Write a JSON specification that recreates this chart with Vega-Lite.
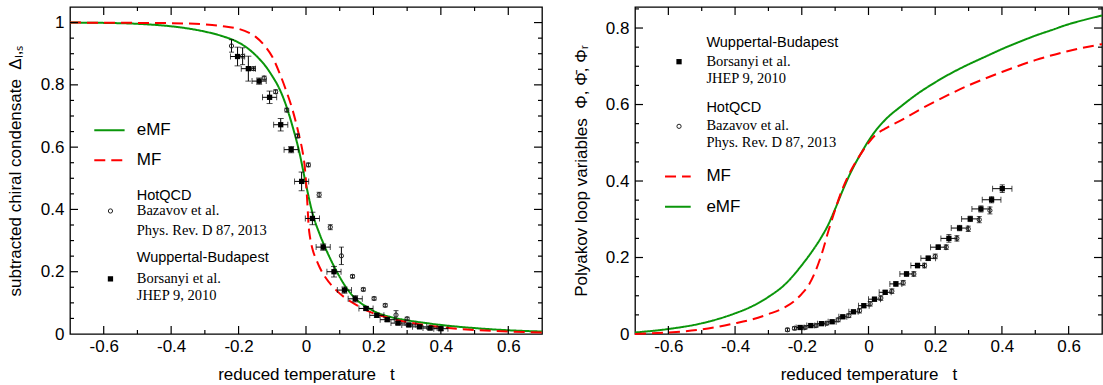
{
  "$schema": "https://vega.github.io/schema/vega-lite/v6.json",
  "padding": {"left": 5, "top": 3, "right": 0, "bottom": 0},
  "spacing": 24,
  "background": "white",
  "config": {
    "view": {"stroke": "black", "strokeWidth": 1.3},
    "axis": {"domain": false, "grid": false, "ticks": false, "tickSize": 0, "labelFont": "Liberation Sans", "labelFontSize": 17, "labelColor": "black", "titleFont": "Liberation Sans", "titleFontSize": 17, "titleFontWeight": "normal", "titleColor": "black", "labelFlush": false, "labelOverlap": false}
  },
  "datasets": {
    "Lframe": [
      {"g":"b1","x":-0.6,"y":0},{"g":"b1","x":-0.6,"y":0.0257},{"g":"b2","x":-0.4,"y":0},{"g":"b2","x":-0.4,"y":0.0257},{"g":"b3","x":-0.2,"y":0},{"g":"b3","x":-0.2,"y":0.0257},{"g":"b4","x":0,"y":0},{"g":"b4","x":0,"y":0.0257},{"g":"b5","x":0.2,"y":0},{"g":"b5","x":0.2,"y":0.0257},{"g":"b6","x":0.4,"y":0},{"g":"b6","x":0.4,"y":0.0257},{"g":"b7","x":0.6,"y":0},{"g":"b7","x":0.6,"y":0.0257},
      {"g":"b8","x":-0.5,"y":0},{"g":"b8","x":-0.5,"y":0.0128},{"g":"b9","x":-0.3,"y":0},{"g":"b9","x":-0.3,"y":0.0128},{"g":"b10","x":-0.1,"y":0},{"g":"b10","x":-0.1,"y":0.0128},{"g":"b11","x":0.1,"y":0},{"g":"b11","x":0.1,"y":0.0128},{"g":"b12","x":0.3,"y":0},{"g":"b12","x":0.3,"y":0.0128},{"g":"b13","x":0.5,"y":0},{"g":"b13","x":0.5,"y":0.0128},
      {"g":"t1","x":-0.6,"y":1.05},{"g":"t1","x":-0.6,"y":1.0243},{"g":"t2","x":-0.4,"y":1.05},{"g":"t2","x":-0.4,"y":1.0243},{"g":"t3","x":-0.2,"y":1.05},{"g":"t3","x":-0.2,"y":1.0243},{"g":"t4","x":0,"y":1.05},{"g":"t4","x":0,"y":1.0243},{"g":"t5","x":0.2,"y":1.05},{"g":"t5","x":0.2,"y":1.0243},{"g":"t6","x":0.4,"y":1.05},{"g":"t6","x":0.4,"y":1.0243},{"g":"t7","x":0.6,"y":1.05},{"g":"t7","x":0.6,"y":1.0243},
      {"g":"t8","x":-0.5,"y":1.05},{"g":"t8","x":-0.5,"y":1.0372},{"g":"t9","x":-0.3,"y":1.05},{"g":"t9","x":-0.3,"y":1.0372},{"g":"t10","x":-0.1,"y":1.05},{"g":"t10","x":-0.1,"y":1.0372},{"g":"t11","x":0.1,"y":1.05},{"g":"t11","x":0.1,"y":1.0372},{"g":"t12","x":0.3,"y":1.05},{"g":"t12","x":0.3,"y":1.0372},{"g":"t13","x":0.5,"y":1.05},{"g":"t13","x":0.5,"y":1.0372},
      {"g":"l1","x":-0.7,"y":0.2},{"g":"l1","x":-0.6763,"y":0.2},{"g":"l2","x":-0.7,"y":0.4},{"g":"l2","x":-0.6763,"y":0.4},{"g":"l3","x":-0.7,"y":0.6},{"g":"l3","x":-0.6763,"y":0.6},{"g":"l4","x":-0.7,"y":0.8},{"g":"l4","x":-0.6763,"y":0.8},{"g":"l5","x":-0.7,"y":1},{"g":"l5","x":-0.6763,"y":1},
      {"g":"l6","x":-0.7,"y":0.05},{"g":"l6","x":-0.6881,"y":0.05},{"g":"l7","x":-0.7,"y":0.1},{"g":"l7","x":-0.6881,"y":0.1},{"g":"l8","x":-0.7,"y":0.15},{"g":"l8","x":-0.6881,"y":0.15},{"g":"l9","x":-0.7,"y":0.25},{"g":"l9","x":-0.6881,"y":0.25},{"g":"l10","x":-0.7,"y":0.3},{"g":"l10","x":-0.6881,"y":0.3},{"g":"l11","x":-0.7,"y":0.35},{"g":"l11","x":-0.6881,"y":0.35},{"g":"l12","x":-0.7,"y":0.45},{"g":"l12","x":-0.6881,"y":0.45},{"g":"l13","x":-0.7,"y":0.5},{"g":"l13","x":-0.6881,"y":0.5},{"g":"l14","x":-0.7,"y":0.55},{"g":"l14","x":-0.6881,"y":0.55},{"g":"l15","x":-0.7,"y":0.65},{"g":"l15","x":-0.6881,"y":0.65},{"g":"l16","x":-0.7,"y":0.7},{"g":"l16","x":-0.6881,"y":0.7},{"g":"l17","x":-0.7,"y":0.75},{"g":"l17","x":-0.6881,"y":0.75},{"g":"l18","x":-0.7,"y":0.85},{"g":"l18","x":-0.6881,"y":0.85},{"g":"l19","x":-0.7,"y":0.9},{"g":"l19","x":-0.6881,"y":0.9},{"g":"l20","x":-0.7,"y":0.95},{"g":"l20","x":-0.6881,"y":0.95},
      {"g":"r1","x":0.6763,"y":0.2},{"g":"r1","x":0.7,"y":0.2},{"g":"r2","x":0.6763,"y":0.4},{"g":"r2","x":0.7,"y":0.4},{"g":"r3","x":0.6763,"y":0.6},{"g":"r3","x":0.7,"y":0.6},{"g":"r4","x":0.6763,"y":0.8},{"g":"r4","x":0.7,"y":0.8},{"g":"r5","x":0.6763,"y":1},{"g":"r5","x":0.7,"y":1},
      {"g":"r6","x":0.6881,"y":0.05},{"g":"r6","x":0.7,"y":0.05},{"g":"r7","x":0.6881,"y":0.1},{"g":"r7","x":0.7,"y":0.1},{"g":"r8","x":0.6881,"y":0.15},{"g":"r8","x":0.7,"y":0.15},{"g":"r9","x":0.6881,"y":0.25},{"g":"r9","x":0.7,"y":0.25},{"g":"r10","x":0.6881,"y":0.3},{"g":"r10","x":0.7,"y":0.3},{"g":"r11","x":0.6881,"y":0.35},{"g":"r11","x":0.7,"y":0.35},{"g":"r12","x":0.6881,"y":0.45},{"g":"r12","x":0.7,"y":0.45},{"g":"r13","x":0.6881,"y":0.5},{"g":"r13","x":0.7,"y":0.5},{"g":"r14","x":0.6881,"y":0.55},{"g":"r14","x":0.7,"y":0.55},{"g":"r15","x":0.6881,"y":0.65},{"g":"r15","x":0.7,"y":0.65},{"g":"r16","x":0.6881,"y":0.7},{"g":"r16","x":0.7,"y":0.7},{"g":"r17","x":0.6881,"y":0.75},{"g":"r17","x":0.7,"y":0.75},{"g":"r18","x":0.6881,"y":0.85},{"g":"r18","x":0.7,"y":0.85},{"g":"r19","x":0.6881,"y":0.9},{"g":"r19","x":0.7,"y":0.9},{"g":"r20","x":0.6881,"y":0.95},{"g":"r20","x":0.7,"y":0.95}
    ],
    "Rframe": [
      {"g":"b1","x":-0.6,"y":0},{"g":"b1","x":-0.6,"y":0.0209},{"g":"b2","x":-0.4,"y":0},{"g":"b2","x":-0.4,"y":0.0209},{"g":"b3","x":-0.2,"y":0},{"g":"b3","x":-0.2,"y":0.0209},{"g":"b4","x":0,"y":0},{"g":"b4","x":0,"y":0.0209},{"g":"b5","x":0.2,"y":0},{"g":"b5","x":0.2,"y":0.0209},{"g":"b6","x":0.4,"y":0},{"g":"b6","x":0.4,"y":0.0209},{"g":"b7","x":0.6,"y":0},{"g":"b7","x":0.6,"y":0.0209},
      {"g":"b8","x":-0.5,"y":0},{"g":"b8","x":-0.5,"y":0.0105},{"g":"b9","x":-0.3,"y":0},{"g":"b9","x":-0.3,"y":0.0105},{"g":"b10","x":-0.1,"y":0},{"g":"b10","x":-0.1,"y":0.0105},{"g":"b11","x":0.1,"y":0},{"g":"b11","x":0.1,"y":0.0105},{"g":"b12","x":0.3,"y":0},{"g":"b12","x":0.3,"y":0.0105},{"g":"b13","x":0.5,"y":0},{"g":"b13","x":0.5,"y":0.0105},
      {"g":"t1","x":-0.6,"y":0.855},{"g":"t1","x":-0.6,"y":0.8341},{"g":"t2","x":-0.4,"y":0.855},{"g":"t2","x":-0.4,"y":0.8341},{"g":"t3","x":-0.2,"y":0.855},{"g":"t3","x":-0.2,"y":0.8341},{"g":"t4","x":0,"y":0.855},{"g":"t4","x":0,"y":0.8341},{"g":"t5","x":0.2,"y":0.855},{"g":"t5","x":0.2,"y":0.8341},{"g":"t6","x":0.4,"y":0.855},{"g":"t6","x":0.4,"y":0.8341},{"g":"t7","x":0.6,"y":0.855},{"g":"t7","x":0.6,"y":0.8341},
      {"g":"t8","x":-0.5,"y":0.855},{"g":"t8","x":-0.5,"y":0.8445},{"g":"t9","x":-0.3,"y":0.855},{"g":"t9","x":-0.3,"y":0.8445},{"g":"t10","x":-0.1,"y":0.855},{"g":"t10","x":-0.1,"y":0.8445},{"g":"t11","x":0.1,"y":0.855},{"g":"t11","x":0.1,"y":0.8445},{"g":"t12","x":0.3,"y":0.855},{"g":"t12","x":0.3,"y":0.8445},{"g":"t13","x":0.5,"y":0.855},{"g":"t13","x":0.5,"y":0.8445},
      {"g":"l1","x":-0.7,"y":0.2},{"g":"l1","x":-0.676,"y":0.2},{"g":"l2","x":-0.7,"y":0.4},{"g":"l2","x":-0.676,"y":0.4},{"g":"l3","x":-0.7,"y":0.6},{"g":"l3","x":-0.676,"y":0.6},{"g":"l4","x":-0.7,"y":0.8},{"g":"l4","x":-0.676,"y":0.8},
      {"g":"l6","x":-0.7,"y":0.05},{"g":"l6","x":-0.688,"y":0.05},{"g":"l7","x":-0.7,"y":0.1},{"g":"l7","x":-0.688,"y":0.1},{"g":"l8","x":-0.7,"y":0.15},{"g":"l8","x":-0.688,"y":0.15},{"g":"l9","x":-0.7,"y":0.25},{"g":"l9","x":-0.688,"y":0.25},{"g":"l10","x":-0.7,"y":0.3},{"g":"l10","x":-0.688,"y":0.3},{"g":"l11","x":-0.7,"y":0.35},{"g":"l11","x":-0.688,"y":0.35},{"g":"l12","x":-0.7,"y":0.45},{"g":"l12","x":-0.688,"y":0.45},{"g":"l13","x":-0.7,"y":0.5},{"g":"l13","x":-0.688,"y":0.5},{"g":"l14","x":-0.7,"y":0.55},{"g":"l14","x":-0.688,"y":0.55},{"g":"l15","x":-0.7,"y":0.65},{"g":"l15","x":-0.688,"y":0.65},{"g":"l16","x":-0.7,"y":0.7},{"g":"l16","x":-0.688,"y":0.7},{"g":"l17","x":-0.7,"y":0.75},{"g":"l17","x":-0.688,"y":0.75},{"g":"l18","x":-0.7,"y":0.85},{"g":"l18","x":-0.688,"y":0.85},
      {"g":"r1","x":0.676,"y":0.2},{"g":"r1","x":0.7,"y":0.2},{"g":"r2","x":0.676,"y":0.4},{"g":"r2","x":0.7,"y":0.4},{"g":"r3","x":0.676,"y":0.6},{"g":"r3","x":0.7,"y":0.6},{"g":"r4","x":0.676,"y":0.8},{"g":"r4","x":0.7,"y":0.8},
      {"g":"r6","x":0.688,"y":0.05},{"g":"r6","x":0.7,"y":0.05},{"g":"r7","x":0.688,"y":0.1},{"g":"r7","x":0.7,"y":0.1},{"g":"r8","x":0.688,"y":0.15},{"g":"r8","x":0.7,"y":0.15},{"g":"r9","x":0.688,"y":0.25},{"g":"r9","x":0.7,"y":0.25},{"g":"r10","x":0.688,"y":0.3},{"g":"r10","x":0.7,"y":0.3},{"g":"r11","x":0.688,"y":0.35},{"g":"r11","x":0.7,"y":0.35},{"g":"r12","x":0.688,"y":0.45},{"g":"r12","x":0.7,"y":0.45},{"g":"r13","x":0.688,"y":0.5},{"g":"r13","x":0.7,"y":0.5},{"g":"r14","x":0.688,"y":0.55},{"g":"r14","x":0.7,"y":0.55},{"g":"r15","x":0.688,"y":0.65},{"g":"r15","x":0.7,"y":0.65},{"g":"r16","x":0.688,"y":0.7},{"g":"r16","x":0.7,"y":0.7},{"g":"r17","x":0.688,"y":0.75},{"g":"r17","x":0.7,"y":0.75},{"g":"r18","x":0.688,"y":0.85},{"g":"r18","x":0.7,"y":0.85}
    ],
    "Lcurves": [
      {"m":"eMF","g":"c","x":-0.7,"y":1.0},{"m":"eMF","g":"c","x":-0.6,"y":0.999},{"m":"eMF","g":"c","x":-0.5,"y":0.996},{"m":"eMF","g":"c","x":-0.4,"y":0.988},{"m":"eMF","g":"c","x":-0.35,"y":0.981},{"m":"eMF","g":"c","x":-0.3,"y":0.971},{"m":"eMF","g":"c","x":-0.25,"y":0.957},{"m":"eMF","g":"c","x":-0.2,"y":0.936},{"m":"eMF","g":"c","x":-0.17,"y":0.915},{"m":"eMF","g":"c","x":-0.14,"y":0.885},{"m":"eMF","g":"c","x":-0.12,"y":0.86},{"m":"eMF","g":"c","x":-0.1,"y":0.828},{"m":"eMF","g":"c","x":-0.08,"y":0.79},{"m":"eMF","g":"c","x":-0.06,"y":0.737},{"m":"eMF","g":"c","x":-0.04,"y":0.667},{"m":"eMF","g":"c","x":-0.02,"y":0.585},{"m":"eMF","g":"c","x":0,"y":0.48},{"m":"eMF","g":"c","x":0.02,"y":0.385},{"m":"eMF","g":"c","x":0.04,"y":0.322},{"m":"eMF","g":"c","x":0.06,"y":0.27},{"m":"eMF","g":"c","x":0.08,"y":0.224},{"m":"eMF","g":"c","x":0.1,"y":0.183},{"m":"eMF","g":"c","x":0.12,"y":0.148},{"m":"eMF","g":"c","x":0.15,"y":0.11},{"m":"eMF","g":"c","x":0.18,"y":0.087},{"m":"eMF","g":"c","x":0.2,"y":0.074},{"m":"eMF","g":"c","x":0.25,"y":0.055},{"m":"eMF","g":"c","x":0.3,"y":0.044},{"m":"eMF","g":"c","x":0.35,"y":0.036},{"m":"eMF","g":"c","x":0.4,"y":0.029},{"m":"eMF","g":"c","x":0.5,"y":0.019},{"m":"eMF","g":"c","x":0.6,"y":0.012},{"m":"eMF","g":"c","x":0.7,"y":0.008},
      {"m":"MF","g":"c","x":-0.7,"y":1.0},{"m":"MF","g":"c","x":-0.5,"y":0.999},{"m":"MF","g":"c","x":-0.4,"y":0.998},{"m":"MF","g":"c","x":-0.3,"y":0.994},{"m":"MF","g":"c","x":-0.25,"y":0.989},{"m":"MF","g":"c","x":-0.2,"y":0.98},{"m":"MF","g":"c","x":-0.17,"y":0.968},{"m":"MF","g":"c","x":-0.15,"y":0.955},{"m":"MF","g":"c","x":-0.12,"y":0.922},{"m":"MF","g":"c","x":-0.1,"y":0.89},{"m":"MF","g":"c","x":-0.08,"y":0.842},{"m":"MF","g":"c","x":-0.06,"y":0.785},{"m":"MF","g":"c","x":-0.04,"y":0.72},{"m":"MF","g":"c","x":-0.03,"y":0.68},{"m":"MF","g":"c","x":-0.02,"y":0.635},{"m":"MF","g":"c","x":-0.01,"y":0.585},{"m":"MF","g":"c","x":-0.004,"y":0.54},{"m":"MF","g":"c","x":0,"y":0.49},{"m":"MF","g":"c","x":0.004,"y":0.42},{"m":"MF","g":"c","x":0.008,"y":0.345},{"m":"MF","g":"c","x":0.012,"y":0.31},{"m":"MF","g":"c","x":0.02,"y":0.27},{"m":"MF","g":"c","x":0.03,"y":0.24},{"m":"MF","g":"c","x":0.04,"y":0.215},{"m":"MF","g":"c","x":0.06,"y":0.178},{"m":"MF","g":"c","x":0.09,"y":0.14},{"m":"MF","g":"c","x":0.12,"y":0.113},{"m":"MF","g":"c","x":0.15,"y":0.093},{"m":"MF","g":"c","x":0.19,"y":0.071},{"m":"MF","g":"c","x":0.25,"y":0.05},{"m":"MF","g":"c","x":0.3,"y":0.038},{"m":"MF","g":"c","x":0.4,"y":0.022},{"m":"MF","g":"c","x":0.5,"y":0.013},{"m":"MF","g":"c","x":0.6,"y":0.008},{"m":"MF","g":"c","x":0.7,"y":0.005},
      {"m":"eMF","g":"k","x":-0.628,"y":0.654},{"m":"eMF","g":"k","x":-0.538,"y":0.654},
      {"m":"MF","g":"k","x":-0.628,"y":0.558},{"m":"MF","g":"k","x":-0.538,"y":0.558}
    ],
    "Lhot": [
      {"x":-0.221,"y":0.925,"lo":0.905,"hi":0.945},{"x":-0.188,"y":0.892,"lo":0.865,"hi":0.919},{"x":-0.156,"y":0.852,"lo":0.846,"hi":0.858},{"x":-0.124,"y":0.822,"lo":0.816,"hi":0.828},{"x":-0.09,"y":0.778,"lo":0.772,"hi":0.784},{"x":-0.057,"y":0.719,"lo":0.713,"hi":0.725},{"x":-0.025,"y":0.636,"lo":0.63,"hi":0.642},{"x":0.007,"y":0.543,"lo":0.537,"hi":0.549},{"x":0.039,"y":0.447,"lo":0.439,"hi":0.455},{"x":0.072,"y":0.343,"lo":0.335,"hi":0.351},{"x":0.105,"y":0.251,"lo":0.223,"hi":0.279},{"x":0.138,"y":0.185,"lo":0.18,"hi":0.19},{"x":0.17,"y":0.143,"lo":0.138,"hi":0.148},{"x":0.202,"y":0.114,"lo":0.109,"hi":0.119},{"x":0.235,"y":0.092,"lo":0.087,"hi":0.097},{"x":0.267,"y":0.061,"lo":0.047,"hi":0.075},{"x":0.3,"y":0.049,"lo":0.044,"hi":0.054}
    ],
    "Lwb": [
      {"x":-0.203,"y":0.891,"lo":0.861,"hi":0.921,"xlo":-0.224,"xhi":-0.182},{"x":-0.171,"y":0.852,"lo":0.812,"hi":0.892,"xlo":-0.192,"xhi":-0.15},{"x":-0.139,"y":0.812,"lo":0.802,"hi":0.822,"xlo":-0.16,"xhi":-0.118},{"x":-0.108,"y":0.76,"lo":0.74,"hi":0.78,"xlo":-0.129,"xhi":-0.087},{"x":-0.075,"y":0.672,"lo":0.652,"hi":0.692,"xlo":-0.096,"xhi":-0.054},{"x":-0.044,"y":0.592,"lo":0.582,"hi":0.602,"xlo":-0.065,"xhi":-0.023},{"x":-0.013,"y":0.49,"lo":0.46,"hi":0.52,"xlo":-0.034,"xhi":0.008},{"x":0.019,"y":0.371,"lo":0.351,"hi":0.391,"xlo":-0.002,"xhi":0.04},{"x":0.051,"y":0.279,"lo":0.269,"hi":0.289,"xlo":0.03,"xhi":0.072},{"x":0.083,"y":0.2,"lo":0.183,"hi":0.217,"xlo":0.062,"xhi":0.104},{"x":0.114,"y":0.141,"lo":0.131,"hi":0.151,"xlo":0.093,"xhi":0.135},{"x":0.146,"y":0.113,"lo":0.103,"hi":0.123,"xlo":0.125,"xhi":0.167},{"x":0.178,"y":0.082,"lo":0.076,"hi":0.088,"xlo":0.157,"xhi":0.199},{"x":0.21,"y":0.06,"lo":0.054,"hi":0.066,"xlo":0.189,"xhi":0.231},{"x":0.241,"y":0.046,"lo":0.041,"hi":0.051,"xlo":0.22,"xhi":0.262},{"x":0.273,"y":0.035,"lo":0.03,"hi":0.04,"xlo":0.252,"xhi":0.294},{"x":0.305,"y":0.029,"lo":0.024,"hi":0.034,"xlo":0.284,"xhi":0.326},{"x":0.337,"y":0.023,"lo":0.018,"hi":0.028,"xlo":0.316,"xhi":0.358},{"x":0.368,"y":0.019,"lo":0.014,"hi":0.024,"xlo":0.347,"xhi":0.389},{"x":0.4,"y":0.017,"lo":0.012,"hi":0.022,"xlo":0.379,"xhi":0.421}
    ],
    "Ltext": [
      {"role":"model","s":"eMF","x":-0.502,"y":0.654},
      {"role":"model","s":"MF","x":-0.502,"y":0.558},
      {"role":"group","s":"HotQCD","x":-0.502,"y":0.443},
      {"role":"ref","s":"Bazavov et al.","x":-0.502,"y":0.395},
      {"role":"ref","s":"Phys. Rev. D 87, 2013","x":-0.502,"y":0.332},
      {"role":"group","s":"Wuppertal-Budapest","x":-0.502,"y":0.244},
      {"role":"ref","s":"Borsanyi et al.","x":-0.502,"y":0.177},
      {"role":"ref","s":"JHEP 9, 2010","x":-0.502,"y":0.123}
    ],
    "Lkeys": [
      {"src":"HotQCD","x":-0.58,"y":0.395},
      {"src":"WB","x":-0.58,"y":0.177}
    ],
    "Rcurves": [
      {"m":"eMF","g":"c","x":-0.7,"y":0.004},{"m":"eMF","g":"c","x":-0.6,"y":0.013},{"m":"eMF","g":"c","x":-0.5,"y":0.028},{"m":"eMF","g":"c","x":-0.4,"y":0.054},{"m":"eMF","g":"c","x":-0.35,"y":0.072},{"m":"eMF","g":"c","x":-0.3,"y":0.097},{"m":"eMF","g":"c","x":-0.25,"y":0.13},{"m":"eMF","g":"c","x":-0.2,"y":0.18},{"m":"eMF","g":"c","x":-0.17,"y":0.215},{"m":"eMF","g":"c","x":-0.14,"y":0.255},{"m":"eMF","g":"c","x":-0.12,"y":0.287},{"m":"eMF","g":"c","x":-0.1,"y":0.327},{"m":"eMF","g":"c","x":-0.08,"y":0.37},{"m":"eMF","g":"c","x":-0.06,"y":0.41},{"m":"eMF","g":"c","x":-0.04,"y":0.445},{"m":"eMF","g":"c","x":-0.02,"y":0.476},{"m":"eMF","g":"c","x":0,"y":0.505},{"m":"eMF","g":"c","x":0.02,"y":0.53},{"m":"eMF","g":"c","x":0.05,"y":0.56},{"m":"eMF","g":"c","x":0.1,"y":0.597},{"m":"eMF","g":"c","x":0.15,"y":0.63},{"m":"eMF","g":"c","x":0.2,"y":0.658},{"m":"eMF","g":"c","x":0.25,"y":0.683},{"m":"eMF","g":"c","x":0.3,"y":0.705},{"m":"eMF","g":"c","x":0.35,"y":0.725},{"m":"eMF","g":"c","x":0.4,"y":0.745},{"m":"eMF","g":"c","x":0.45,"y":0.763},{"m":"eMF","g":"c","x":0.5,"y":0.78},{"m":"eMF","g":"c","x":0.55,"y":0.795},{"m":"eMF","g":"c","x":0.6,"y":0.81},{"m":"eMF","g":"c","x":0.65,"y":0.822},{"m":"eMF","g":"c","x":0.7,"y":0.833},
      {"m":"MF","g":"c","x":-0.7,"y":0.0},{"m":"MF","g":"c","x":-0.6,"y":0.004},{"m":"MF","g":"c","x":-0.5,"y":0.012},{"m":"MF","g":"c","x":-0.4,"y":0.028},{"m":"MF","g":"c","x":-0.35,"y":0.038},{"m":"MF","g":"c","x":-0.3,"y":0.052},{"m":"MF","g":"c","x":-0.25,"y":0.07},{"m":"MF","g":"c","x":-0.22,"y":0.088},{"m":"MF","g":"c","x":-0.2,"y":0.105},{"m":"MF","g":"c","x":-0.18,"y":0.127},{"m":"MF","g":"c","x":-0.16,"y":0.162},{"m":"MF","g":"c","x":-0.14,"y":0.21},{"m":"MF","g":"c","x":-0.12,"y":0.27},{"m":"MF","g":"c","x":-0.1,"y":0.325},{"m":"MF","g":"c","x":-0.08,"y":0.375},{"m":"MF","g":"c","x":-0.06,"y":0.415},{"m":"MF","g":"c","x":-0.04,"y":0.447},{"m":"MF","g":"c","x":-0.02,"y":0.475},{"m":"MF","g":"c","x":0,"y":0.5},{"m":"MF","g":"c","x":0.02,"y":0.52},{"m":"MF","g":"c","x":0.05,"y":0.537},{"m":"MF","g":"c","x":0.1,"y":0.56},{"m":"MF","g":"c","x":0.15,"y":0.585},{"m":"MF","g":"c","x":0.2,"y":0.608},{"m":"MF","g":"c","x":0.3,"y":0.65},{"m":"MF","g":"c","x":0.4,"y":0.685},{"m":"MF","g":"c","x":0.5,"y":0.716},{"m":"MF","g":"c","x":0.6,"y":0.74},{"m":"MF","g":"c","x":0.7,"y":0.758},
      {"m":"MF","g":"k","x":-0.61,"y":0.412},{"m":"MF","g":"k","x":-0.533,"y":0.412},
      {"m":"eMF","g":"k","x":-0.61,"y":0.333},{"m":"eMF","g":"k","x":-0.533,"y":0.333}
    ],
    "Rhot": [
      {"x":-0.243,"y":0.011,"lo":0.007,"hi":0.015},{"x":-0.222,"y":0.015,"lo":0.011,"hi":0.019},{"x":-0.19,"y":0.017,"lo":0.013,"hi":0.021},{"x":-0.157,"y":0.022,"lo":0.018,"hi":0.026},{"x":-0.125,"y":0.028,"lo":0.024,"hi":0.032},{"x":-0.091,"y":0.037,"lo":0.032,"hi":0.042},{"x":-0.059,"y":0.048,"lo":0.043,"hi":0.053},{"x":-0.027,"y":0.061,"lo":0.055,"hi":0.067},{"x":0.005,"y":0.079,"lo":0.073,"hi":0.085},{"x":0.037,"y":0.094,"lo":0.088,"hi":0.1},{"x":0.07,"y":0.112,"lo":0.106,"hi":0.118},{"x":0.104,"y":0.134,"lo":0.128,"hi":0.14},{"x":0.136,"y":0.157,"lo":0.151,"hi":0.163},{"x":0.168,"y":0.179,"lo":0.173,"hi":0.185},{"x":0.2,"y":0.203,"lo":0.197,"hi":0.209},{"x":0.233,"y":0.227,"lo":0.221,"hi":0.233},{"x":0.265,"y":0.25,"lo":0.243,"hi":0.257},{"x":0.299,"y":0.275,"lo":0.268,"hi":0.282},{"x":0.332,"y":0.299,"lo":0.291,"hi":0.307},{"x":0.364,"y":0.323,"lo":0.314,"hi":0.332}
    ],
    "Rwb": [
      {"x":-0.205,"y":0.017,"lo":0.013,"hi":0.021,"xlo":-0.217,"xhi":-0.193},{"x":-0.173,"y":0.022,"lo":0.018,"hi":0.026,"xlo":-0.185,"xhi":-0.161},{"x":-0.141,"y":0.027,"lo":0.023,"hi":0.031,"xlo":-0.153,"xhi":-0.129},{"x":-0.109,"y":0.032,"lo":0.028,"hi":0.036,"xlo":-0.121,"xhi":-0.097},{"x":-0.077,"y":0.045,"lo":0.041,"hi":0.049,"xlo":-0.089,"xhi":-0.065},{"x":-0.045,"y":0.058,"lo":0.054,"hi":0.062,"xlo":-0.059,"xhi":-0.031},{"x":-0.014,"y":0.074,"lo":0.069,"hi":0.079,"xlo":-0.03,"xhi":0.002},{"x":0.018,"y":0.091,"lo":0.086,"hi":0.096,"xlo":0.0,"xhi":0.036},{"x":0.05,"y":0.109,"lo":0.104,"hi":0.114,"xlo":0.032,"xhi":0.068},{"x":0.082,"y":0.131,"lo":0.125,"hi":0.137,"xlo":0.064,"xhi":0.1},{"x":0.114,"y":0.157,"lo":0.151,"hi":0.163,"xlo":0.094,"xhi":0.134},{"x":0.147,"y":0.179,"lo":0.173,"hi":0.185,"xlo":0.127,"xhi":0.167},{"x":0.179,"y":0.198,"lo":0.192,"hi":0.204,"xlo":0.157,"xhi":0.201},{"x":0.209,"y":0.227,"lo":0.221,"hi":0.233,"xlo":0.186,"xhi":0.232},{"x":0.241,"y":0.25,"lo":0.24,"hi":0.26,"xlo":0.217,"xhi":0.265},{"x":0.273,"y":0.277,"lo":0.27,"hi":0.284,"xlo":0.248,"xhi":0.298},{"x":0.305,"y":0.301,"lo":0.294,"hi":0.308,"xlo":0.279,"xhi":0.331},{"x":0.337,"y":0.327,"lo":0.319,"hi":0.335,"xlo":0.31,"xhi":0.364},{"x":0.369,"y":0.351,"lo":0.343,"hi":0.359,"xlo":0.341,"xhi":0.397},{"x":0.401,"y":0.38,"lo":0.37,"hi":0.39,"xlo":0.372,"xhi":0.43}
    ],
    "Rtext": [
      {"role":"group","s":"Wuppertal-Budapest","x":-0.486,"y":0.761},
      {"role":"ref","s":"Borsanyi et al.","x":-0.486,"y":0.712},
      {"role":"ref","s":"JHEP 9, 2010","x":-0.486,"y":0.668},
      {"role":"group","s":"HotQCD","x":-0.486,"y":0.59},
      {"role":"ref","s":"Bazavov et al.","x":-0.486,"y":0.543},
      {"role":"ref","s":"Phys. Rev. D 87, 2013","x":-0.486,"y":0.499},
      {"role":"model","s":"MF","x":-0.486,"y":0.412},
      {"role":"model","s":"eMF","x":-0.486,"y":0.333}
    ],
    "Rkeys": [
      {"src":"WB","x":-0.568,"y":0.712},
      {"src":"HotQCD","x":-0.568,"y":0.543}
    ]
  },
  "hconcat": [
    {
      "width": 472,
      "height": 327,
      "resolve": {"axis": {"x": "independent", "y": "independent"}},
      "layer": [
        {
          "data": {"name": "Lcurves"},
          "mark": {"type": "line", "strokeWidth": 2, "interpolate": "monotone"},
          "encoding": {
            "x": {"field": "x", "type": "quantitative", "scale": {"domain": [-0.7, 0.7], "nice": false, "zero": false},
                  "axis": {"orient": "bottom", "values": [-0.6, -0.4, -0.2, 0, 0.2, 0.4, 0.6], "labelPadding": 4, "labelExpr": "'' + datum.value", "title": "reduced temperature\u00a0\u00a0\u00a0t", "titlePadding": 12}},
            "y": {"field": "y", "type": "quantitative", "scale": {"domain": [0, 1.05], "nice": false, "zero": false},
                  "axis": {"orient": "left", "values": [0, 0.2, 0.4, 0.6, 0.8, 1], "labelPadding": 6, "labelExpr": "'' + datum.value", "title": "subtracted chiral condensate\u00a0\u00a0\u0394\u2097,\u209b", "titlePadding": 16}},
            "color": {"field": "m", "type": "nominal", "scale": {"domain": ["eMF", "MF"], "range": ["#0a960a", "#ff0000"]}, "legend": null},
            "strokeDash": {"field": "m", "type": "nominal", "scale": {"domain": ["eMF", "MF"], "range": [[1, 0], [11, 6]]}, "legend": null},
            "detail": {"field": "g"}
          }
        },
        {
          "data": {"name": "Lframe"},
          "mark": {"type": "line", "color": "black", "strokeWidth": 1.2, "interpolate": "linear"},
          "encoding": {
            "x": {"field": "x", "type": "quantitative", "axis": null},
            "y": {"field": "y", "type": "quantitative", "axis": null},
            "detail": {"field": "g"}
          }
        },
        {
          "data": {"name": "Lhot"},
          "mark": {"type": "errorbar", "ticks": true, "size": 5, "thickness": 1, "color": "black"},
          "encoding": {
            "x": {"field": "x", "type": "quantitative", "axis": null},
            "y": {"field": "lo", "type": "quantitative", "axis": null},
            "y2": {"field": "hi"}
          }
        },
        {
          "data": {"name": "Lwb"},
          "mark": {"type": "errorbar", "ticks": true, "size": 6, "thickness": 1, "color": "black"},
          "encoding": {
            "x": {"field": "x", "type": "quantitative", "axis": null},
            "y": {"field": "lo", "type": "quantitative", "axis": null},
            "y2": {"field": "hi"}
          }
        },
        {
          "data": {"name": "Lwb"},
          "mark": {"type": "errorbar", "ticks": true, "size": 6, "thickness": 1, "color": "black"},
          "encoding": {
            "y": {"field": "y", "type": "quantitative", "axis": null},
            "x": {"field": "xlo", "type": "quantitative", "axis": null},
            "x2": {"field": "xhi"}
          }
        },
        {
          "data": {"name": "Lhot"},
          "mark": {"type": "point", "shape": "circle", "filled": false, "stroke": "#222", "strokeWidth": 1, "size": 18, "opacity": 1},
          "encoding": {
            "x": {"field": "x", "type": "quantitative", "axis": null},
            "y": {"field": "y", "type": "quantitative", "axis": null}
          }
        },
        {
          "data": {"name": "Lwb"},
          "mark": {"type": "square", "filled": true, "color": "black", "size": 28, "opacity": 1},
          "encoding": {
            "x": {"field": "x", "type": "quantitative", "axis": null},
            "y": {"field": "y", "type": "quantitative", "axis": null}
          }
        },
        {
          "data": {"name": "Lkeys"},
          "transform": [{"filter": "datum.src === 'HotQCD'"}],
          "mark": {"type": "point", "shape": "circle", "filled": false, "stroke": "#222", "strokeWidth": 1, "size": 18, "opacity": 1},
          "encoding": {
            "x": {"field": "x", "type": "quantitative", "axis": null},
            "y": {"field": "y", "type": "quantitative", "axis": null}
          }
        },
        {
          "data": {"name": "Lkeys"},
          "transform": [{"filter": "datum.src === 'WB'"}],
          "mark": {"type": "square", "filled": true, "color": "black", "size": 28, "opacity": 1},
          "encoding": {
            "x": {"field": "x", "type": "quantitative", "axis": null},
            "y": {"field": "y", "type": "quantitative", "axis": null}
          }
        },
        {
          "data": {"name": "Ltext"},
          "transform": [{"filter": "datum.role === 'model'"}],
          "mark": {"type": "text", "align": "left", "baseline": "middle", "font": "Liberation Sans", "fontSize": 17, "color": "black"},
          "encoding": {
            "x": {"field": "x", "type": "quantitative", "axis": null},
            "y": {"field": "y", "type": "quantitative", "axis": null},
            "text": {"field": "s"}
          }
        },
        {
          "data": {"name": "Ltext"},
          "transform": [{"filter": "datum.role === 'group'"}],
          "mark": {"type": "text", "align": "left", "baseline": "middle", "font": "Liberation Sans", "fontSize": 14.5, "color": "black"},
          "encoding": {
            "x": {"field": "x", "type": "quantitative", "axis": null},
            "y": {"field": "y", "type": "quantitative", "axis": null},
            "text": {"field": "s"}
          }
        },
        {
          "data": {"name": "Ltext"},
          "transform": [{"filter": "datum.role === 'ref'"}],
          "mark": {"type": "text", "align": "left", "baseline": "middle", "font": "Liberation Serif", "fontSize": 14.5, "color": "black"},
          "encoding": {
            "x": {"field": "x", "type": "quantitative", "axis": null},
            "y": {"field": "y", "type": "quantitative", "axis": null},
            "text": {"field": "s"}
          }
        }
      ]
    },
    {
      "width": 467,
      "height": 327,
      "resolve": {"axis": {"x": "independent", "y": "independent"}},
      "layer": [
        {
          "data": {"name": "Rcurves"},
          "mark": {"type": "line", "strokeWidth": 2, "interpolate": "monotone"},
          "encoding": {
            "x": {"field": "x", "type": "quantitative", "scale": {"domain": [-0.7, 0.7], "nice": false, "zero": false},
                  "axis": {"orient": "bottom", "values": [-0.6, -0.4, -0.2, 0, 0.2, 0.4, 0.6], "labelPadding": 4, "labelExpr": "'' + datum.value", "title": "reduced temperature\u00a0\u00a0\u00a0t", "titlePadding": 12}},
            "y": {"field": "y", "type": "quantitative", "scale": {"domain": [0, 0.855], "nice": false, "zero": false},
                  "axis": {"orient": "left", "values": [0, 0.2, 0.4, 0.6, 0.8], "labelPadding": 6, "labelExpr": "'' + datum.value", "title": "Polyakov loop variables\u00a0\u00a0\u03a6, \u03a6\u0304, \u03a6\u1d63", "titlePadding": 15}},
            "color": {"field": "m", "type": "nominal", "scale": {"domain": ["eMF", "MF"], "range": ["#0a960a", "#ff0000"]}, "legend": null},
            "strokeDash": {"field": "m", "type": "nominal", "scale": {"domain": ["eMF", "MF"], "range": [[1, 0], [11, 6]]}, "legend": null},
            "detail": {"field": "g"}
          }
        },
        {
          "data": {"name": "Rframe"},
          "mark": {"type": "line", "color": "black", "strokeWidth": 1.2, "interpolate": "linear"},
          "encoding": {
            "x": {"field": "x", "type": "quantitative", "axis": null},
            "y": {"field": "y", "type": "quantitative", "axis": null},
            "detail": {"field": "g"}
          }
        },
        {
          "data": {"name": "Rhot"},
          "mark": {"type": "errorbar", "ticks": true, "size": 5, "thickness": 1, "color": "black"},
          "encoding": {
            "x": {"field": "x", "type": "quantitative", "axis": null},
            "y": {"field": "lo", "type": "quantitative", "axis": null},
            "y2": {"field": "hi"}
          }
        },
        {
          "data": {"name": "Rwb"},
          "mark": {"type": "errorbar", "ticks": true, "size": 5, "thickness": 1, "color": "black"},
          "encoding": {
            "x": {"field": "x", "type": "quantitative", "axis": null},
            "y": {"field": "lo", "type": "quantitative", "axis": null},
            "y2": {"field": "hi"}
          }
        },
        {
          "data": {"name": "Rwb"},
          "mark": {"type": "errorbar", "ticks": true, "size": 6, "thickness": 1, "color": "black"},
          "encoding": {
            "y": {"field": "y", "type": "quantitative", "axis": null},
            "x": {"field": "xlo", "type": "quantitative", "axis": null},
            "x2": {"field": "xhi"}
          }
        },
        {
          "data": {"name": "Rhot"},
          "mark": {"type": "point", "shape": "circle", "filled": false, "stroke": "#222", "strokeWidth": 1, "size": 18, "opacity": 1},
          "encoding": {
            "x": {"field": "x", "type": "quantitative", "axis": null},
            "y": {"field": "y", "type": "quantitative", "axis": null}
          }
        },
        {
          "data": {"name": "Rwb"},
          "mark": {"type": "square", "filled": true, "color": "black", "size": 28, "opacity": 1},
          "encoding": {
            "x": {"field": "x", "type": "quantitative", "axis": null},
            "y": {"field": "y", "type": "quantitative", "axis": null}
          }
        },
        {
          "data": {"name": "Rkeys"},
          "transform": [{"filter": "datum.src === 'HotQCD'"}],
          "mark": {"type": "point", "shape": "circle", "filled": false, "stroke": "#222", "strokeWidth": 1, "size": 18, "opacity": 1},
          "encoding": {
            "x": {"field": "x", "type": "quantitative", "axis": null},
            "y": {"field": "y", "type": "quantitative", "axis": null}
          }
        },
        {
          "data": {"name": "Rkeys"},
          "transform": [{"filter": "datum.src === 'WB'"}],
          "mark": {"type": "square", "filled": true, "color": "black", "size": 28, "opacity": 1},
          "encoding": {
            "x": {"field": "x", "type": "quantitative", "axis": null},
            "y": {"field": "y", "type": "quantitative", "axis": null}
          }
        },
        {
          "data": {"name": "Rtext"},
          "transform": [{"filter": "datum.role === 'model'"}],
          "mark": {"type": "text", "align": "left", "baseline": "middle", "font": "Liberation Sans", "fontSize": 17, "color": "black"},
          "encoding": {
            "x": {"field": "x", "type": "quantitative", "axis": null},
            "y": {"field": "y", "type": "quantitative", "axis": null},
            "text": {"field": "s"}
          }
        },
        {
          "data": {"name": "Rtext"},
          "transform": [{"filter": "datum.role === 'group'"}],
          "mark": {"type": "text", "align": "left", "baseline": "middle", "font": "Liberation Sans", "fontSize": 14.5, "color": "black"},
          "encoding": {
            "x": {"field": "x", "type": "quantitative", "axis": null},
            "y": {"field": "y", "type": "quantitative", "axis": null},
            "text": {"field": "s"}
          }
        },
        {
          "data": {"name": "Rtext"},
          "transform": [{"filter": "datum.role === 'ref'"}],
          "mark": {"type": "text", "align": "left", "baseline": "middle", "font": "Liberation Serif", "fontSize": 14.5, "color": "black"},
          "encoding": {
            "x": {"field": "x", "type": "quantitative", "axis": null},
            "y": {"field": "y", "type": "quantitative", "axis": null},
            "text": {"field": "s"}
          }
        }
      ]
    }
  ]
}
